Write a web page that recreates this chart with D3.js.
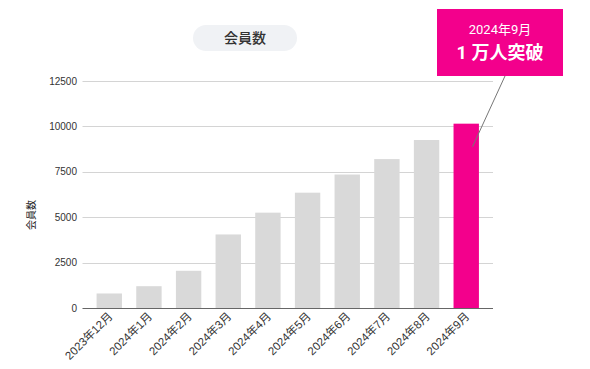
<!DOCTYPE html>
<html><head><meta charset="utf-8">
<script src="https://cdn.jsdelivr.net/npm/d3@7/dist/d3.min.js"></script>
<style>
body{margin:0;background:#fff;}
svg text{font-family:"Liberation Sans","Noto Sans CJK JP",sans-serif;}
</style></head>
<body>
<svg id="c" width="590" height="369"></svg>
<script>
const categories = ["2023年12月","2024年1月","2024年2月","2024年3月","2024年4月","2024年5月","2024年6月","2024年7月","2024年8月","2024年9月"];
const members = [800,1200,2050,4050,5250,6350,7350,8200,9250,10150];
const yTicks = [0,2500,5000,7500,10000,12500];
const title = "会員数";
const yLabel = "会員数";
const calloutLine1 = "2024年9月";
const calloutLine2 = "1 万人突破";

const svg = d3.select("#c");
const x = d3.scaleBand().domain(categories).range([82.5,493]).paddingInner(0.36).paddingOuter(0.355);
const y = d3.scaleLinear().domain([0,12500]).range([308,81]);

// grid
svg.append("g").selectAll("line").data(yTicks.filter(d=>d>0)).join("line")
  .attr("x1",82.5).attr("x2",493).attr("y1",d=>Math.round(y(d))+0.5).attr("y2",d=>Math.round(y(d))+0.5)
  .attr("stroke","#d4d4d4").attr("stroke-width",1);

// y tick labels
svg.append("g").selectAll("text").data(yTicks).join("text")
  .attr("x",77).attr("y",d=>y(d)+3.5).attr("text-anchor","end")
  .attr("font-size",10).attr("fill","#333").text(d=>d);

// baseline
svg.append("line").attr("x1",82.5).attr("x2",493).attr("y1",308.5).attr("y2",308.5)
  .attr("stroke","#666").attr("stroke-width",1.2);

// bars
svg.append("g").selectAll("rect").data(categories).join("rect")
  .attr("x",d=>x(d)).attr("width",x.bandwidth())
  .attr("y",(d,i)=>y(members[i])).attr("height",(d,i)=>308-y(members[i]))
  .attr("fill",(d,i)=>i===categories.length-1?"#f3008c":"#d9d9d9");

// x labels
svg.append("g").selectAll("text").data(categories).join("text")
  .attr("text-anchor","end").attr("font-size",11.5).attr("fill","#333")
  .attr("transform",d=>`translate(${x(d)+x.bandwidth()/2+4},${317}) rotate(-45)`)
  .text(d=>d);

// y label
svg.append("text").attr("transform","translate(35,215) rotate(-90)")
  .attr("text-anchor","middle").attr("font-size",10).attr("fill","#222").text(yLabel);

// title pill
svg.append("rect").attr("x",193).attr("y",25).attr("width",104).attr("height",26).attr("rx",13)
  .attr("fill","#f0f2f5");
svg.append("text").attr("x",245).attr("y",43).attr("text-anchor","middle")
  .attr("font-size",14).attr("fill","#333").attr("font-weight",500)
  .style("font-family","'Noto Sans CJK JP',sans-serif").text(title);

// callout line
const last = categories[categories.length-1];
svg.append("line").attr("x1",505).attr("y1",76).attr("x2",x(last)+x.bandwidth()*0.75).attr("y2",y(members[members.length-1])+23)
  .attr("stroke","#777").attr("stroke-width",1);
// callout box
svg.append("rect").attr("x",437).attr("y",9).attr("width",126).attr("height",67).attr("fill","#f3008c");
svg.append("text").attr("x",500).attr("y",34).attr("text-anchor","middle").attr("font-size",13).attr("fill","#fff")
  .style("font-family","Roboto,'Noto Sans CJK JP',sans-serif").text(calloutLine1);
svg.append("text").attr("x",500).attr("y",58.5).attr("text-anchor","middle").attr("font-size",18).attr("font-weight","bold").attr("fill","#fff")
  .style("font-family","Roboto,'Noto Sans CJK JP',sans-serif").text(calloutLine2);
</script>
</body></html>
